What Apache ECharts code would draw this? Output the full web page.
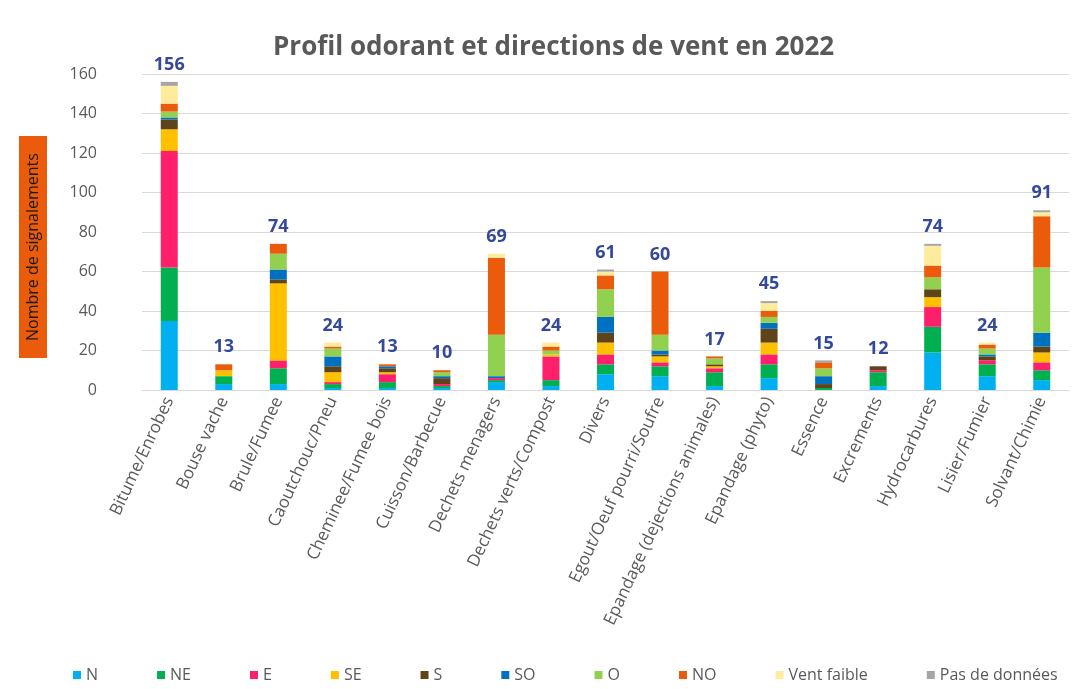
<!DOCTYPE html>
<html>
<head>
<meta charset="utf-8">
<script src="https://cdn.jsdelivr.net/npm/echarts@6/dist/echarts.min.js"></script>
<style>
  html, body { margin: 0; padding: 0; background: #fff; }
  #chart { width: 1087px; height: 689px; }
</style>
</head>
<body>
<div id="chart"></div>
<script>
// catégories d'odeur
const categories = ['Bitume/Enrobes', 'Bouse vache', 'Brule/Fumee', 'Caoutchouc/Pneu', 'Cheminee/Fumee bois',
  'Cuisson/Barbecue', 'Dechets menagers', 'Dechets verts/Compost', 'Divers', 'Egout/Oeuf pourri/Soufre',
  'Epandage (dejections animales)', 'Epandage (phyto)', 'Essence', 'Excrements', 'Hydrocarbures',
  'Lisier/Fumier', 'Solvant/Chimie'];

// nombre de signalements par direction de vent
const N   = [35, 3, 3, 1, 1, 1, 4, 2, 8, 7, 2, 6, 0, 2, 19, 7, 5];
const NE  = [27, 4, 8, 2, 3, 1, 1, 3, 5, 5, 7, 7, 1, 7, 13, 6, 5];
const E   = [59, 0, 4, 1, 4, 1, 1, 12, 5, 2, 2, 5, 0, 1, 10, 2, 4];
const SE  = [11, 3, 39, 5, 1, 0, 0, 1, 6, 3, 1, 6, 0, 0, 5, 0, 5];
const S   = [5, 0, 2, 3, 2, 3, 0, 0, 5, 1, 1, 7, 2, 2, 4, 2, 3];
const SO  = [1, 0, 5, 5, 1, 1, 1, 0, 8, 2, 0, 3, 4, 0, 0, 1, 7];
const O   = [3, 0, 8, 4, 0, 2, 21, 2, 14, 8, 3, 3, 4, 0, 6, 3, 33];
const NO  = [4, 3, 5, 1, 1, 1, 39, 2, 7, 32, 1, 3, 3, 0, 6, 2, 26];
const VF  = [9, 0, 0, 2, 0, 0, 2, 2, 2, 0, 0, 4, 0, 0, 10, 1, 2];
const PD  = [2, 0, 0, 0, 0, 0, 0, 0, 1, 0, 0, 1, 1, 0, 1, 0, 1];

const yTicks = [0, 20, 40, 60, 80, 100, 120, 140, 160];

const directions = [
  { name: 'N', data: N, color: '#00B0F0' },
  { name: 'NE', data: NE, color: '#00B050' },
  { name: 'E', data: E, color: '#FF1F6B' },
  { name: 'SE', data: SE, color: '#FFC000' },
  { name: 'S', data: S, color: '#5F441A' },
  { name: 'SO', data: SO, color: '#0070C0' },
  { name: 'O', data: O, color: '#92D050' },
  { name: 'NO', data: NO, color: '#EA5B0C' },
  { name: 'Vent faible', data: VF, color: '#FFEB9C' },
  { name: 'Pas de données', data: PD, color: '#A5A5A5' }
];

// totaux affichés au-dessus des barres
const totals = categories.map((c, i) => directions.reduce((s, d) => s + d.data[i], 0));

const font = '"Open Sans", "Noto Sans", sans-serif';
const grey = '#595959';

let series = directions.map(d => ({
  name: d.name,
  type: 'bar',
  stack: 'total',
  barWidth: 17,
  data: d.data,
  itemStyle: { color: d.color },
  emphasis: { disabled: true }
}));

series.push({
  name: 'Total',
  type: 'bar',
  barWidth: 17,
  barGap: '-100%',
  data: totals,
  itemStyle: { color: 'rgba(0,0,0,0)' },
  z: 1,
  label: {
    show: true,
    position: 'top',
    distance: 8,
    color: '#34499A',
    fontFamily: font,
    fontWeight: 'bold',
    fontSize: 18
  },
  emphasis: { disabled: true }
});

let chart = echarts.init(document.getElementById('chart'));
chart.setOption({
  animation: false,
  backgroundColor: '#fff',
  title: {
    text: 'Profil odorant et directions de vent en 2022',
    left: 268,
    top: 30,
    textStyle: { color: grey, fontFamily: font, fontWeight: 'bold', fontSize: 26 }
  },
  grid: { left: 142, right: 18, top: 74, bottom: 299 },
  legend: {
    data: directions.map(d => d.name),
    left: 68,
    top: 662,
    itemWidth: 8,
    itemHeight: 8,
    itemGap: 59,
    icon: 'rect',
    textStyle: { color: grey, fontFamily: font, fontSize: 16 }
  },
  xAxis: {
    type: 'category',
    data: categories,
    axisTick: { show: false },
    axisLine: { lineStyle: { color: '#D9D9D9' } },
    axisLabel: { interval: 0, rotate: 65, color: grey, fontFamily: font, fontSize: 17, margin: 8 }
  },
  yAxis: {
    type: 'value',
    min: yTicks[0],
    max: yTicks[yTicks.length - 1],
    interval: 20,
    axisLabel: { color: grey, fontFamily: font, fontSize: 16, margin: 45 },
    splitLine: { lineStyle: { color: '#D9D9D9', width: 1 } }
  },
  graphic: [{
    type: 'text',
    x: 33,
    y: 247,
    rotation: Math.PI / 2,
    style: {
      text: 'Nombre de signalements',
      fontFamily: font,
      fontSize: 16,
      fill: '#1a1a1a',
      align: 'center',
      verticalAlign: 'middle',
      backgroundColor: '#EA5B0C',
      padding: [6, 17]
    }
  }],
  series: series
});
</script>
</body>
</html>
